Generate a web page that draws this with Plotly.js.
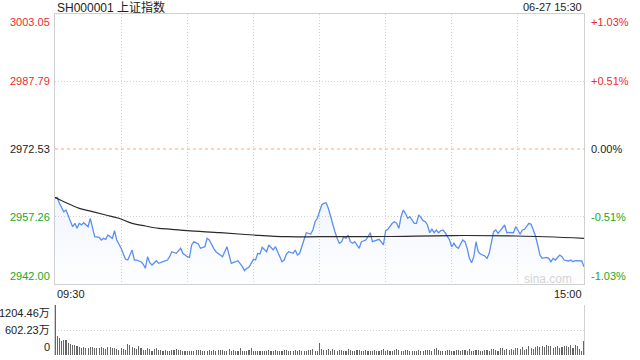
<!DOCTYPE html>
<html><head><meta charset="utf-8">
<script src="https://cdn.plot.ly/plotly-3.0.1.min.js"></script>
<style>html,body{margin:0;padding:0;background:#fff}#c{width:640px;height:360px}</style>
</head><body><div id="c"></div>
<script>
// ---- data ----
const titleText = "SH000001 上证指数";
const dateText = "06-27 15:30";
const prevClose = 2972.53;
const priceTicks = [3003.05, 2987.79, 2972.53, 2957.26, 2942.00];
const pctTicks = ["+1.03%", "+0.51%", "0.00%", "-0.51%", "-1.03%"];
const timeLabels = ["09:30", "15:00"];
const volTicks = [1204.46, 602.23, 0];
const volTickText = ["1204.46万", "602.23万", "0"];

const priceMin = [0,1,2,3,4,5,6,8,9,10,11,12,13,14,15,16,17,18,20,21,22,23,24,26,27,28,30,31,32,33,35,36,37,39,40,41,42,43,44,46,47,49,51,52,53,55,57,58,60,61,62,63,65,66,68,69,70,72,73,75,76,78,79,80,82,83,85,86,87,88,90,91,92,93,94,96,97,99,100,101,102,103,104,105,106,108,109,110,111,112,113,114,116,117,118,119,120,121,122,123,124,125,126,127,128,129,130,131,132,133,134,135,136,137,138,139,141,142,143,144,145,147,148,149,150,151,153,154,155,156,157,158,159,160,161,163,164,165,166,167,168,169,170,171,172,173,174,175,176,177,179,180,181,182,183,185,186,187,188,189,190,191,192,193,195,196,197,198,199,200,201,202,204,205,206,208,209,210,211,212,213,215,216,217,218,219,220,221,223,224,225,226,227,229,230,231,233,234,235,236,238,239,240];
const priceVal = [2961.37,2961.60,2960.24,2959.11,2958.35,2958.73,2957.60,2954.95,2955.72,2954.59,2955.72,2955.34,2955.86,2955.34,2954.95,2956.85,2954.59,2952.69,2952.56,2951.95,2952.33,2952.10,2953.08,2952.33,2954.05,2951.95,2950.07,2948.94,2947.58,2947.42,2949.68,2947.42,2947.42,2947.04,2946.52,2945.55,2948.17,2946.81,2946.29,2947.27,2946.68,2947.04,2947.42,2948.17,2949.30,2948.94,2950.07,2948.94,2948.17,2948.03,2950.82,2951.56,2951.04,2950.07,2950.43,2952.33,2951.95,2950.07,2949.30,2948.55,2948.17,2950.43,2948.55,2946.68,2947.04,2947.27,2945.91,2945.01,2945.55,2945.78,2947.58,2947.42,2948.94,2948.78,2950.30,2949.30,2950.82,2949.68,2950.43,2949.30,2947.80,2947.04,2947.42,2948.78,2949.30,2948.94,2949.68,2948.55,2948.94,2950.43,2951.95,2953.60,2953.30,2954.21,2956.09,2956.86,2958.35,2959.86,2960.24,2960.38,2959.11,2957.21,2955.34,2953.82,2952.33,2951.20,2951.56,2952.69,2952.33,2953.08,2951.56,2951.20,2951.56,2950.82,2950.07,2951.56,2951.95,2952.69,2953.60,2951.56,2951.79,2952.10,2951.56,2950.82,2954.05,2954.37,2955.72,2956.09,2955.72,2954.59,2957.21,2958.73,2957.98,2956.86,2957.21,2955.72,2955.72,2957.60,2957.08,2956.31,2956.09,2955.34,2953.60,2954.37,2953.60,2954.21,2953.60,2954.05,2954.21,2953.60,2951.95,2950.43,2951.20,2950.43,2950.07,2951.95,2951.56,2950.07,2947.80,2946.81,2948.17,2951.56,2949.30,2948.78,2948.33,2947.80,2948.94,2951.20,2953.82,2954.21,2953.46,2954.05,2955.34,2953.60,2953.69,2953.60,2954.95,2954.21,2953.24,2954.21,2954.37,2955.72,2955.49,2954.21,2952.85,2950.82,2948.55,2947.80,2948.03,2947.80,2947.04,2947.80,2947.42,2948.55,2948.17,2947.42,2947.20,2947.42,2947.04,2947.27,2947.20,2947.20,2945.91];

const avgMin = [0,5,11,17,23,29,35,41,47,53,60,75,90,105,120,150,180,210,240];
const avgVal = [2961.60,2960.38,2959.11,2958.35,2957.60,2956.86,2955.72,2955.11,2954.59,2954.37,2954.05,2953.60,2953.08,2952.69,2952.69,2952.74,2952.96,2952.85,2952.33];

const volume = [
1204.46,458,402,337,361,361,281,265,241,241,
217,185,170,190,178,160,185,192,175,160,
178,185,170,150,182,188,176,160,140,130,
170,150,120,265,230,200,160,140,210,180,
120,110,170,140,105,150,160,130,115,100,
110,105,98,120,110,150,130,120,95,90,
100,95,92,100,120,110,115,100,90,88,
120,100,110,95,130,110,115,90,100,140,
100,130,95,88,170,90,95,100,120,160,
90,85,95,100,105,90,100,110,100,95,
130,90,100,85,110,120,100,90,95,110,
105,130,95,100,90,120,110,140,100,95,
300,150,130,120,140,100,150,120,90,130,
110,100,95,140,120,100,90,110,130,100,
95,120,100,90,105,130,95,100,110,140,
100,120,90,95,110,150,130,90,100,120,
110,95,100,90,105,125,100,95,110,130,
120,100,140,160,110,95,90,100,130,110,
100,95,120,110,100,130,115,90,140,100,
105,120,110,95,100,130,110,100,150,140,
120,100,160,180,120,140,115,150,125,160,
180,140,200,120,140,210,170,150,190,220,
200,210,195,230,220,205,160,185,215,170,
200,225,210,190,230,180,240,210,150,95,
337];
const volMin = volume.map((v, i) => i);

// ---- style ----
const FONT = 'Arial, "Liberation Sans", "Noto Sans CJK SC", sans-serif';
const RED = '#ee2b2b', GREEN = '#22a622', DARK = '#222';
const tickColors = [RED, RED, DARK, GREEN, GREEN];
const tickAnchors = ['top', 'middle', 'middle', 'middle', 'bottom'];
const H = 360, T = 14, B = 5, PH = H - T - B;
const py = Y => (H - B - Y) / PH;           // pixel -> paper y
const L = 55, R = 584, PW = R - L;
const px = X => (X - L) / PW;               // pixel -> paper x
const GRID = '#d2d2d2', DOTS = '1px,2px';

const traces = [
  {x: priceMin, y: priceVal, type: 'scatter', mode: 'lines', xaxis: 'x', yaxis: 'y',
   line: {color: '#5b8ff0', width: 1.3}, fill: 'tozeroy',
   fillgradient: {type: 'vertical', start: priceTicks[4], stop: 2961,
     colorscale: [[0, 'rgba(120,160,240,0.01)'], [1, 'rgba(110,150,240,0.10)']]},
   hoverinfo: 'skip'},
  {x: avgMin, y: avgVal, type: 'scatter', mode: 'lines', xaxis: 'x', yaxis: 'y',
   line: {color: '#2a2a2a', width: 1.2, shape: 'spline'}, hoverinfo: 'skip'},
  {x: volMin, y: volume, type: 'bar', xaxis: 'x2', yaxis: 'y2', width: 0.5,
   marker: {color: '#666', line: {width: 0}}, hoverinfo: 'skip'}
];

const ann = [];
ann.push({text: titleText, xref: 'paper', yref: 'paper', x: 0, y: py(7), xanchor: 'left', yanchor: 'middle',
  showarrow: false, font: {family: FONT, size: 12, color: DARK}});
ann.push({text: dateText, xref: 'paper', yref: 'paper', x: 1, y: py(7), xanchor: 'right', yanchor: 'middle',
  showarrow: false, font: {family: FONT, size: 11, color: DARK}});
priceTicks.forEach((v, i) => {
  ann.push({text: v.toFixed(2), xref: 'paper', yref: 'y', x: px(52), y: v, xanchor: 'right', yanchor: tickAnchors[i],
    showarrow: false, font: {family: FONT, size: 11, color: tickColors[i]}});
  ann.push({text: pctTicks[i], xref: 'paper', yref: 'y', x: px(589), y: v, xanchor: 'left', yanchor: tickAnchors[i],
    showarrow: false, font: {family: FONT, size: 11, color: tickColors[i]}});
});
ann.push({text: timeLabels[0], xref: 'paper', yref: 'paper', x: 0, y: py(294), xanchor: 'left', yanchor: 'middle',
  showarrow: false, font: {family: FONT, size: 11, color: DARK}});
ann.push({text: timeLabels[1], xref: 'paper', yref: 'paper', x: 1, y: py(294), xanchor: 'right', yanchor: 'middle',
  showarrow: false, font: {family: FONT, size: 11, color: DARK}});
ann.push({text: 'sina.com', xref: 'paper', yref: 'paper', x: px(574), y: py(279), xanchor: 'right', yanchor: 'middle',
  showarrow: false, font: {family: FONT, size: 12, color: '#d4d4d4'}});
volTicks.forEach((v, i) => {
  ann.push({text: volTickText[i], xref: 'paper', yref: 'y2', x: px(52), y: v, xanchor: 'right',
    yanchor: i === 0 ? 'top' : (i === 2 ? 'bottom' : 'middle'),
    showarrow: false, font: {family: FONT, size: 11, color: DARK}});
});

const layout = {
  width: 640, height: 360, margin: {l: L, r: 640 - R, t: T, b: B},
  paper_bgcolor: '#fff', plot_bgcolor: '#fff', showlegend: false, bargap: 0,
  xaxis: {domain: [0, 1], range: [0, 240], anchor: 'y', tickvals: [30, 60, 90, 120, 150, 180, 210],
    showticklabels: false, ticks: '', showgrid: true, gridcolor: GRID, griddash: DOTS, gridwidth: 1,
    zeroline: false, showline: true, mirror: true, linecolor: '#d0d0d0', linewidth: 1, fixedrange: true},
  yaxis: {domain: [py(284), 1], range: [priceTicks[4], priceTicks[0]], anchor: 'x',
    tickvals: [priceTicks[1], priceTicks[3]], showticklabels: false, ticks: '',
    showgrid: true, gridcolor: GRID, griddash: DOTS, gridwidth: 1,
    zeroline: false, showline: true, mirror: true, linecolor: '#d0d0d0', linewidth: 1, fixedrange: true},
  xaxis2: {domain: [0, 1], range: [0, 240], anchor: 'y2', showticklabels: false, ticks: '', showgrid: false,
    zeroline: false, showline: false, fixedrange: true},
  yaxis2: {domain: [0, py(305)], range: [0, volTicks[0]], anchor: 'x2', tickvals: [volTicks[1], volTicks[0]],
    showticklabels: false, ticks: '', showgrid: true, gridcolor: GRID, griddash: DOTS, gridwidth: 1,
    zeroline: false, showline: true, mirror: true, linecolor: '#d0d0d0', linewidth: 1, fixedrange: true},
  shapes: [{type: 'line', xref: 'x', yref: 'y', x0: 0, x1: 240, y0: prevClose, y1: prevClose,
    line: {color: '#f4ad7c', width: 1, dash: '3px,3px'}}],
  annotations: ann
};

Plotly.newPlot('c', traces, layout, {staticPlot: true, displayModeBar: false});
</script></body></html>
